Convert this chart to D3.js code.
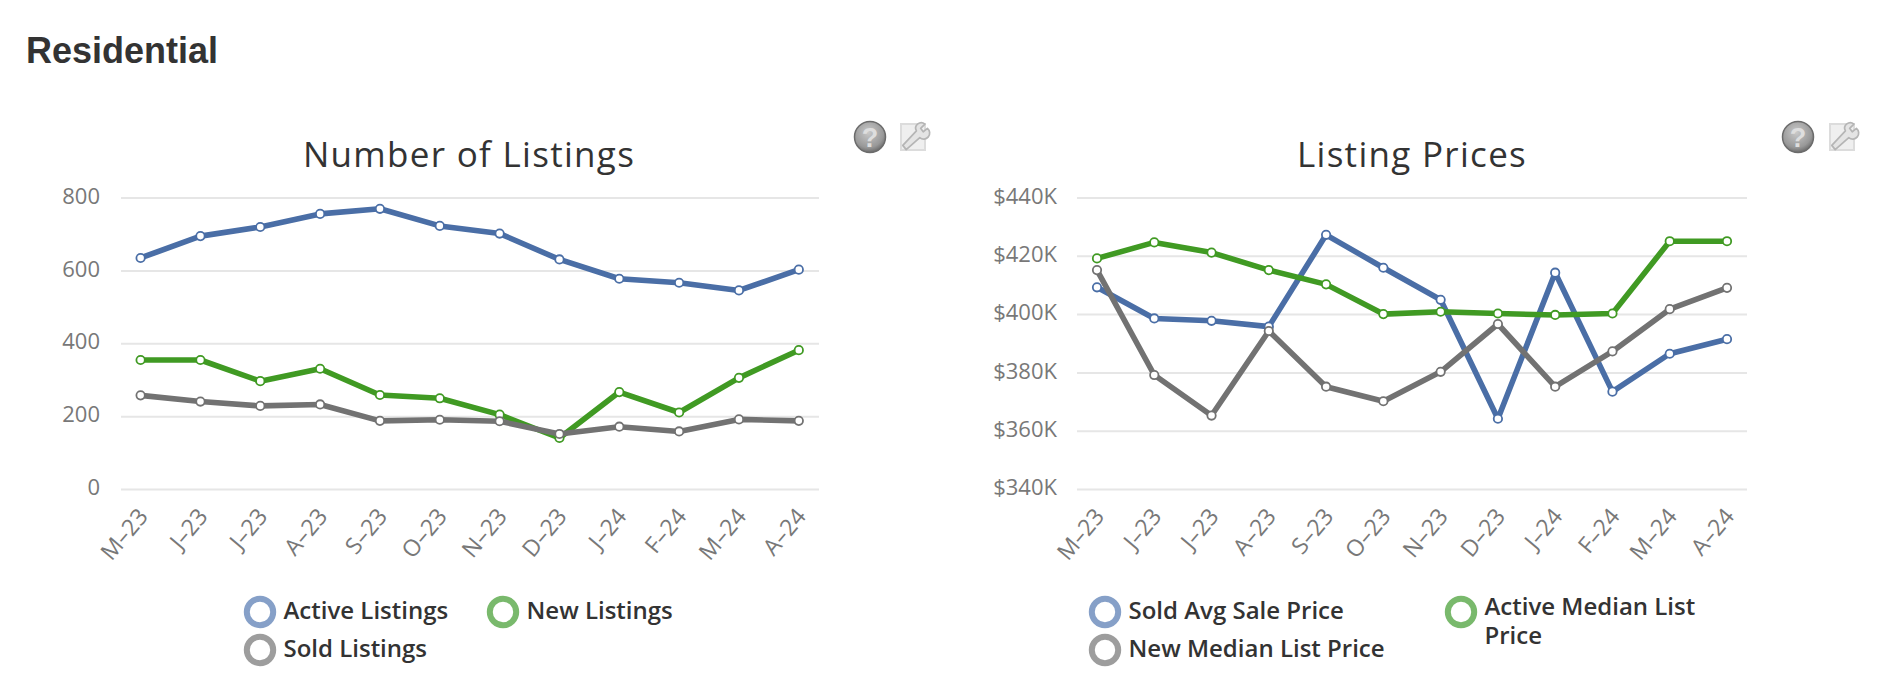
<!DOCTYPE html>
<meta charset="utf-8">
<style>
  html, body { margin: 0; background: #fff; }
  svg { display: block; }
  .tick text { font-family: "Open Sans", sans-serif; }
</style>
<script src="https://d3js.org/d3.v7.min.js"></script>
<div id="my_dataviz"></div>
<script>

// data
var months = ["M–23", "J–23", "J–23", "A–23", "S–23", "O–23", "N–23", "D–23", "J–24", "F–24", "M–24", "A–24"];

var activeListings = [634, 694, 719, 755, 769, 722, 701, 630, 577, 566, 545, 602];
var newListings = [354, 354, 296, 330, 258, 249, 204, 140, 266, 210, 305, 381];
var soldListings = [257, 240, 228, 232, 187, 190, 186, 151, 171, 158, 191, 187];
var listingTicks = [0, 200, 400, 600, 800];

var soldAvgPrice = [409.2, 398.5, 397.7, 395.7, 427.2, 415.9, 404.9, 364.1, 414.2, 373.4, 386.4, 391.4];
var activeMedianPrice = [419.1, 424.6, 421.1, 415.1, 410.2, 400, 400.8, 400.2, 399.7, 400.2, 425, 425];
var newMedianPrice = [415.1, 379.1, 365.2, 394.2, 375.1, 370.1, 380.2, 396.6, 375.1, 387.2, 401.7, 409];
var priceTicks = [340, 360, 380, 400, 420, 440];

var BLUE = "#4a6ea6", GREEN = "#409a23", GRAY = "#727272";
var LEG_BLUE = "#86a0c8", LEG_GREEN = "#79b96c", LEG_GRAY = "#9d9d9d";

var svg = d3.select("#my_dataviz")
  .append("svg")
    .attr("width", 1883)
    .attr("height", 698);

var defs = svg.append("defs");
var grad = defs.append("radialGradient").attr("id", "helpGrad").attr("cx", "45%").attr("cy", "35%").attr("r", "70%");
grad.append("stop").attr("offset", "0%").attr("stop-color", "#c9c9c9");
grad.append("stop").attr("offset", "70%").attr("stop-color", "#989898");
grad.append("stop").attr("offset", "100%").attr("stop-color", "#5f5f5f");

svg.append("text")
  .attr("x", 26).attr("y", 63)
  .style("font-family", "'Liberation Sans', Arial, sans-serif")
  .style("font-weight", "bold")
  .style("font-size", "36px")
  .attr("fill", "#333")
  .text("Residential");

function drawIcons(cx, wx) {
  var g = svg.append("g");
  g.append("circle").attr("cx", cx).attr("cy", 137).attr("r", 15.5)
    .attr("fill", "url(#helpGrad)").attr("stroke", "#6b6b6b").attr("stroke-width", 1.5);
  g.append("text").attr("x", cx).attr("y", 147).attr("text-anchor", "middle")
    .style("font-family", "'Liberation Sans', sans-serif").style("font-weight", "bold").style("font-size", "27px")
    .attr("fill", "#dedede").text("?");
  var w = svg.append("g").attr("transform", "translate(" + wx + ",136)");
  w.append("rect").attr("x", -12).attr("y", -12).attr("width", 24).attr("height", 26)
    .attr("fill", "#efefef").attr("stroke", "#dcdcdc").attr("stroke-width", 2);
  // wrench
  w.append("path")
    .attr("transform", "scale(0.85)")
    .attr("d", "M-12,11 L4,-6 A6.5,6.5 0 0 1 14,-14 L9,-9 L12,-5 L17,-9 A7,7 0 0 1 8,2 L-8,16 Z")
    .attr("fill", "#e4e4e4").attr("stroke", "#b5b5b5").attr("stroke-width", 2).attr("stroke-linejoin", "round");
}

function drawChart(c) {
  var g = svg.append("g");

  var x = d3.scalePoint().domain(d3.range(months.length)).range(c.pointRange);
  var y = d3.scaleLinear().domain(d3.extent(c.ticks)).range([489, 197.5]);

  g.append("text")
    .attr("x", c.titleX).attr("y", 167).attr("text-anchor", "middle")
    .style("font-family", "'Open Sans', sans-serif")
    .style("font-size", "35px")
    .style("letter-spacing", "1.3px")
    .attr("fill", "#333")
    .text(c.title);

  // y axis with gridlines
  var yAxis = g.append("g")
    .attr("transform", "translate(" + c.gridRange[0] + ",0)")
    .call(d3.axisLeft(y).tickValues(c.ticks).tickSize(0).tickPadding(c.labelGap).tickFormat(c.format));
  yAxis.select(".domain").remove();
  yAxis.selectAll("text").style("font-size", "22px").attr("fill", "#787878").attr("dy", "0.26em");
  yAxis.selectAll(".tick").append("line")
    .attr("x1", 0).attr("x2", c.gridRange[1] - c.gridRange[0])
    .attr("stroke", "#e6e6e6").attr("stroke-width", 2);

  // x axis, rotated labels
  var xAxis = g.append("g")
    .attr("transform", "translate(0,489)")
    .call(d3.axisBottom(x).tickSize(0).tickFormat(function(i) { return months[i]; }));
  xAxis.select(".domain").remove();
  xAxis.selectAll("text")
    .style("font-size", "23px")
    .attr("fill", "#787878")
    .attr("text-anchor", "end")
    .attr("dy", 0).attr("y", 0)
    .attr("transform", "translate(8,28) rotate(-50)");

  var line = d3.line()
    .x(function(d, i) { return x(i); })
    .y(function(d) { return y(d); });

  c.series.forEach(function(s) {
    g.append("path")
      .datum(s.values)
      .attr("fill", "none")
      .attr("stroke", s.color)
      .attr("stroke-width", 5.6)
      .attr("stroke-linejoin", "round")
      .attr("d", line);
    g.selectAll(null)
      .data(s.values)
      .enter().append("circle")
        .attr("cx", function(d, i) { return x(i); })
        .attr("cy", function(d) { return y(d); })
        .attr("r", 4.2)
        .attr("fill", "#fff")
        .attr("stroke", s.color)
        .attr("stroke-width", 1.8);
  });

  // legend
  c.legend.forEach(function(l) {
    g.append("circle")
      .attr("cx", l.x).attr("cy", l.y).attr("r", 13.2)
      .attr("fill", "#fff").attr("stroke", l.color).attr("stroke-width", 6);
    var t = g.append("text")
      .style("font-family", "'Open Sans', sans-serif")
      .style("font-weight", 600)
      .style("font-size", "24px")
      .attr("fill", "#333");
    l.lines.forEach(function(txt, i) {
      t.append("tspan").attr("x", l.x + 23.5).attr("y", l.textY + i * 29).text(txt);
    });
  });
}

drawChart({
  title: "Number of Listings",
  titleX: 469,
  pointRange: [140.6, 798.8],
  gridRange: [121, 819],
  ticks: listingTicks,
  format: function(d) { return d; },
  labelGap: 21,
  series: [
    {color: BLUE, values: activeListings},
    {color: GREEN, values: newListings},
    {color: GRAY, values: soldListings}
  ],
  legend: [
    {x: 260, y: 612, textY: 619, color: LEG_BLUE, lines: ["Active Listings"]},
    {x: 503, y: 612, textY: 619, color: LEG_GREEN, lines: ["New Listings"]},
    {x: 260, y: 650, textY: 657, color: LEG_GRAY, lines: ["Sold Listings"]}
  ]
});

drawChart({
  title: "Listing Prices",
  titleX: 1412,
  pointRange: [1097, 1727],
  gridRange: [1077, 1747],
  ticks: priceTicks,
  format: function(d) { return "$" + d + "K"; },
  labelGap: 20,
  series: [
    {color: BLUE, values: soldAvgPrice},
    {color: GREEN, values: activeMedianPrice},
    {color: GRAY, values: newMedianPrice}
  ],
  legend: [
    {x: 1105, y: 612, textY: 619, color: LEG_BLUE, lines: ["Sold Avg Sale Price"]},
    {x: 1461, y: 612, textY: 615, color: LEG_GREEN, lines: ["Active Median List", "Price"]},
    {x: 1105, y: 650, textY: 657, color: LEG_GRAY, lines: ["New Median List Price"]}
  ]
});

drawIcons(870, 913);
drawIcons(1798, 1842);

</script>
